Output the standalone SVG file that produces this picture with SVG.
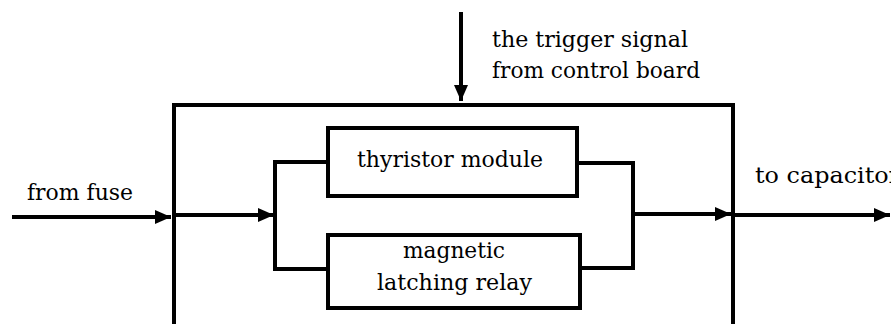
<svg xmlns="http://www.w3.org/2000/svg" width="891" height="324" viewBox="0 0 891 324">
<style>
.ln{fill:none;stroke:#000;stroke-width:4}
.bx{fill:#fff;stroke:#000;stroke-width:4}
</style>
<defs>
<marker id="ah" markerUnits="userSpaceOnUse" markerWidth="16" markerHeight="14" refX="16" refY="7" orient="auto" viewBox="0 0 16 14">
<path d="M0,0 L16,7 L0,14 z" fill="#000"/>
</marker>
</defs>
<rect width="891" height="324" fill="#fff"/>
<g id="controller">
<path class="ln" d="M174,330 V105 H733 V330"/>
</g>
<g id="thyristor">
<rect class="bx" x="328" y="128" width="249" height="68"/>
<text x="357" y="167" font-family="DejaVu Serif" font-size="22" textLength="186" lengthAdjust="spacingAndGlyphs">thyristor module</text>
</g>
<g id="relay">
<rect class="bx" x="328" y="235" width="252" height="73"/>
<text x="403" y="258" font-family="DejaVu Serif" font-size="22" textLength="102" lengthAdjust="spacingAndGlyphs">magnetic</text>
<text x="377" y="290" font-family="DejaVu Serif" font-size="22" textLength="155" lengthAdjust="spacingAndGlyphs">latching relay</text>
</g>
<g id="connectors">
<path class="ln" d="M12,217 H171" marker-end="url(#ah)"/>
<path class="ln" d="M174,215 H274" marker-end="url(#ah)"/>
<path class="ln" d="M328,162 H275 V269 H328"/>
<path class="ln" d="M577,163 H633 V268 H580"/>
<path class="ln" d="M633,214 H731" marker-end="url(#ah)"/>
<path class="ln" d="M733,215 H890" marker-end="url(#ah)"/>
<path class="ln" d="M461,12 V101" marker-end="url(#ah)"/>
</g>
<g id="labels">
<text x="492" y="47" font-family="DejaVu Serif" font-size="22" textLength="196" lengthAdjust="spacingAndGlyphs">the trigger signal</text>
<text x="492" y="78" font-family="DejaVu Serif" font-size="22" textLength="208" lengthAdjust="spacingAndGlyphs">from control board</text>
<text x="27" y="200" font-family="DejaVu Serif" font-size="22" textLength="106" lengthAdjust="spacingAndGlyphs">from fuse</text>
<text x="755" y="183" font-family="DejaVu Serif" font-size="22" textLength="145" lengthAdjust="spacingAndGlyphs">to  capacitor</text>
</g>
</svg>
